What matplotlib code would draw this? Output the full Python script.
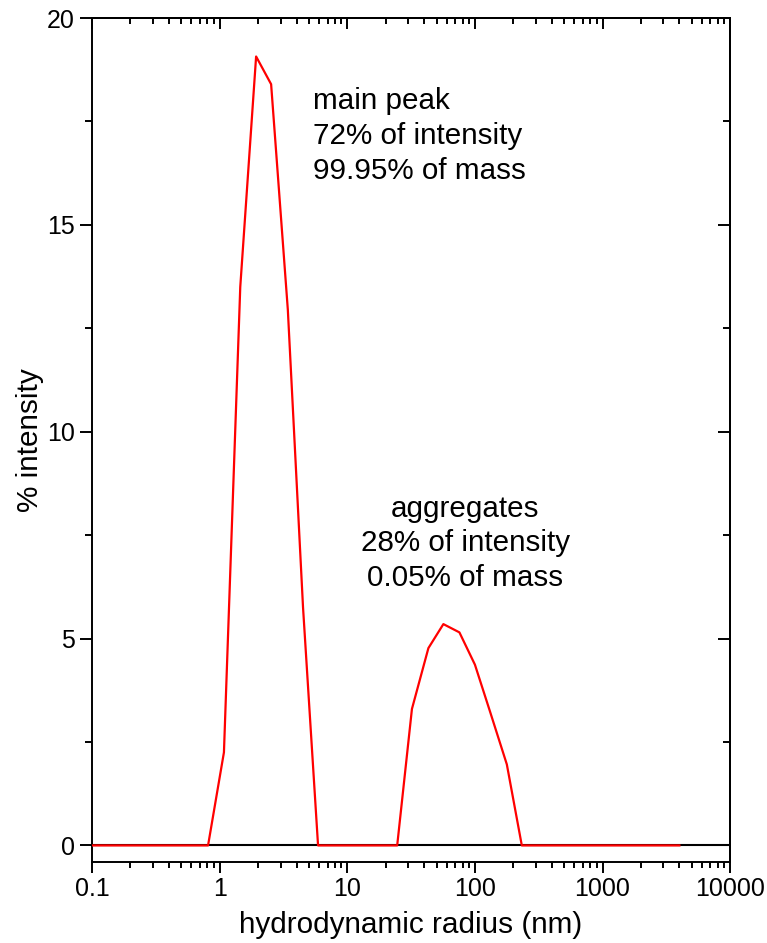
import matplotlib
matplotlib.use("Agg")
import matplotlib.pyplot as plt
from matplotlib.ticker import LogLocator, FixedLocator, NullFormatter, MultipleLocator

plt.rcParams['font.family'] = ['Liberation Sans', 'DejaVu Sans']

# data
radius_nm = [0.1, 0.811, 1.08, 1.45, 1.93, 2.53, 3.42, 4.5, 5.9,
             24.6, 32.1, 43.2, 56.6, 75.6, 100, 131.5, 177.8, 233, 4000]
intensity_pct = [0, 0, 2.25, 13.5, 19.07, 18.4, 12.95, 5.75, 0,
                 0, 3.30, 4.77, 5.35, 5.15, 4.37, 3.23, 1.96, 0, 0]

x_ticks = [0.1, 1, 10, 100, 1000, 10000]
x_tick_labels = ["0.1", "1", "10", "100", "1000", "10000"]
y_ticks = [0, 5, 10, 15, 20]
y_tick_labels = ["0", "5", "10", "15", "20"]

main_label = "main peak\n72% of intensity\n99.95% of mass"
agg_label = "aggregates\n28% of intensity\n0.05% of mass"

fig = plt.figure(figsize=(7.67, 9.43), dpi=100)
ax = fig.add_axes([0.12, 0.0859, 0.832, 0.8950])

ax.axhline(0, color='black', lw=1.5, zorder=2)
ax.plot(radius_nm, intensity_pct, color='#ff0000', lw=1.6, zorder=3)

ax.set_xscale('log')
ax.set_xlim(0.1, 10000)
ax.set_ylim(-0.4, 20)

ax.xaxis.set_major_locator(FixedLocator(x_ticks))
ax.set_xticklabels(x_tick_labels)
ax.xaxis.set_minor_locator(LogLocator(base=10, subs=range(2, 10), numticks=20))
ax.xaxis.set_minor_formatter(NullFormatter())
ax.set_yticks(y_ticks)
ax.set_yticklabels(y_tick_labels)
ax.yaxis.set_minor_locator(MultipleLocator(2.5))

for s in ax.spines.values():
    s.set_linewidth(1.4)

ax.tick_params(axis='x', which='major', direction='out', length=8, width=1.4,
               labelsize=18, pad=3, top=False)
ax.tick_params(axis='x', which='minor', direction='out', length=4.5, width=1.4, top=False)
ax.tick_params(axis='y', which='major', direction='out', length=8.5, width=1.4,
               labelsize=18, pad=4, right=False)
ax.tick_params(axis='y', which='minor', direction='out', length=5, width=1.4, right=False)

# top and right axes with inward ticks
axt = ax.secondary_xaxis('top')
axt.xaxis.set_major_locator(FixedLocator(x_ticks))
axt.xaxis.set_minor_locator(LogLocator(base=10, subs=range(2, 10), numticks=20))
axt.tick_params(axis='x', which='major', direction='in', length=8, width=1.4, labeltop=False)
axt.tick_params(axis='x', which='minor', direction='in', length=4.5, width=1.4)
axt.xaxis.set_major_formatter(NullFormatter())
axt.xaxis.set_minor_formatter(NullFormatter())
axt.spines['top'].set_linewidth(1.4)

axr = ax.secondary_yaxis('right')
axr.set_yticks(y_ticks)
axr.yaxis.set_minor_locator(MultipleLocator(2.5))
axr.tick_params(axis='y', which='major', direction='in', length=8.5, width=1.4, labelright=False)
axr.tick_params(axis='y', which='minor', direction='in', length=5, width=1.4)
axr.yaxis.set_major_formatter(NullFormatter())
axr.spines['right'].set_linewidth(1.4)

ax.set_xlabel("hydrodynamic radius (nm)", fontsize=21.4, labelpad=7)
ax.set_ylabel("% intensity", fontsize=21.4, labelpad=2)

# va='baseline' aligns the last line's baseline
ax.text(5.4, 16.12, main_label, fontsize=21.3, ha='left', va='baseline',
        linespacing=1.3)
ax.text(83.8, 6.27, agg_label, fontsize=21.3, ha='center', va='baseline',
        linespacing=1.3, multialignment='center')

fig.savefig("out.png", dpi=100)
